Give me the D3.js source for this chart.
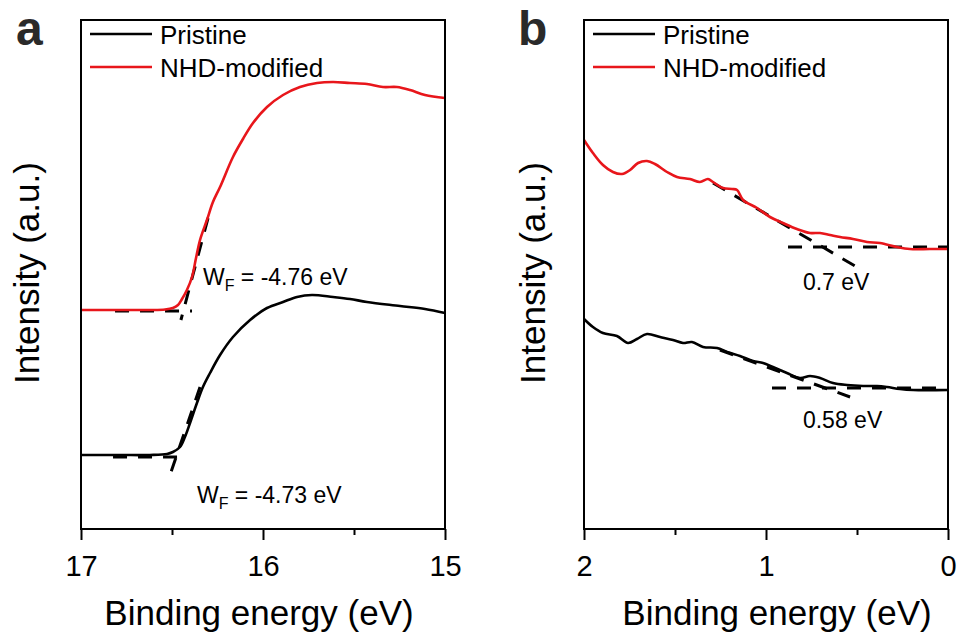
<!DOCTYPE html>
<html><head><meta charset="utf-8">
<script src="https://cdn.jsdelivr.net/npm/d3@7"></script>
<style>
body{margin:0;background:#fff}
text{font-family:"Liberation Sans",Arial,sans-serif}
</style></head>
<body><svg id="c" width="960" height="634"></svg>
<script>
// ---------- data ----------
const seriesNames = ["Pristine", "NHD-modified"];
const seriesColors = ["#000000", "#e8161b"];

// Panel a: secondary electron cutoff (binding energy eV, intensity a.u.)
const aPristineE = [17.0,16.786,16.621,16.527,16.495,16.456,16.429,16.401,16.363,16.33,16.291,16.236,16.165,16.071,15.978,15.89,15.813,15.731,15.615,15.522,15.429,15.247,15.11,15.0];
const aPristineI = [74,74,74,75,77,82,92,106,126,142,156,174,192,209,221,227,232,234,232,230,227,223,220,216];
const aNhdE = [17.0,16.786,16.621,16.538,16.495,16.467,16.445,16.418,16.39,16.368,16.346,16.308,16.275,16.236,16.165,16.11,16.055,15.978,15.89,15.797,15.703,15.615,15.522,15.429,15.341,15.264,15.192,15.11,15.0];
const aNhdI = [219,219,219,219.5,221,224,230,239,252,271,289,309,327,342,372,390,406,422,434,442,446,447,446,445,442,442,439,434,431];

// Panel b: valence band edge
const bPristineE = [2.0,1.951,1.896,1.819,1.758,1.709,1.654,1.582,1.511,1.456,1.407,1.346,1.269,1.214,1.143,1.071,1.016,0.962,0.885,0.813,0.758,0.703,0.632,0.555,0.467,0.39,0.335,0.264,0.192,0.0];
const bPristineI = [210,202,196,193,186,190,195,192,189,186,187,182,181,177,173,168,166,162,156,151,153,151,146,144,143,143,142,140,139,139];
const bNhdE = [2.0,1.951,1.896,1.841,1.791,1.747,1.703,1.654,1.61,1.544,1.489,1.418,1.363,1.319,1.291,1.236,1.187,1.159,1.126,1.049,0.978,0.907,0.83,0.758,0.703,0.648,0.593,0.522,0.445,0.374,0.28,0.209,0.099,0.0];
const bNhdI = [389,376,364,357,355,359,366,368,365,357,352,350,347,350,347,341,340,339,329,321,312,306,300,296,296,294,292,290,287,286,282,280,280,280];

// Dashed extrapolation lines: [E1, I1, E2, I2]
const aGuides = [
  [16.302,311,16.451,209], [16.813,218,16.390,218],
  [16.346,142,16.511,54],  [16.824,72,16.412,72]
];
const bGuides = [
  [1.291,346,0.473,259], [0.879,282,0.0,282],
  [1.253,179,0.538,132], [0.967,141,0.0,141]
];

const aTicks = [17,16,15], aMinor = [16.5,15.5];
const bTicks = [2,1,0], bMinor = [1.5,0.5];
const xTitle = "Binding energy (eV)";
const yTitle = "Intensity (a.u.)";
const aNotes = [["-4.76 eV",16.330,244],["-4.73 eV",16.363,26]];
const bNotes = [["0.7 eV",0.797,239],["0.58 eV",0.797,101]];

// ---------- drawing ----------
const svg = d3.select("#c");
const plotTop = 20, plotBottom = 529;
const y = d3.scaleLinear().domain([0,509]).range([plotBottom, plotTop]);

function panel(opt){
  const x = d3.scaleLinear().domain(opt.dom).range([opt.x0, opt.x1]);
  const g = svg.append("g");
  const major = d3.axisBottom(x).tickValues(opt.ticks).tickSize(11).tickFormat(d3.format("d"));
  const minor = d3.axisBottom(x).tickValues(opt.minor).tickSize(6).tickFormat("");
  const ga = g.append("g").attr("transform",`translate(0,${plotBottom})`).call(major);
  ga.select(".domain").remove();
  ga.selectAll("line").attr("stroke","#000").attr("stroke-width",2);
  ga.selectAll("text").attr("y",47).attr("dy",0).attr("font-size",29).attr("fill","#000")
    .attr("font-family","'Liberation Sans',Arial,sans-serif");
  const gm = g.append("g").attr("transform",`translate(0,${plotBottom})`).call(minor);
  gm.select(".domain").remove();
  gm.selectAll("line").attr("stroke","#000").attr("stroke-width",2);

  g.selectAll(".guide").data(opt.guides).enter().append("line")
    .attr("x1",d=>x(d[0])).attr("y1",d=>y(d[1]))
    .attr("x2",d=>x(d[2])).attr("y2",d=>y(d[3]))
    .attr("stroke","#000").attr("stroke-width",3).attr("stroke-dasharray","14,11");

  const line = d3.line().x(d=>x(d[0])).y(d=>y(d[1])).curve(d3.curveCatmullRom);
  opt.series.forEach((s,i)=>{
    g.append("path").datum(d3.zip(s[0],s[1])).attr("d",line)
      .attr("fill","none").attr("stroke",seriesColors[i]).attr("stroke-width",2.6)
      .attr("stroke-linejoin","round");
  });

  g.append("rect").attr("x",opt.x0).attr("y",plotTop).attr("width",opt.x1-opt.x0).attr("height",plotBottom-plotTop)
    .attr("fill","none").attr("stroke","#000").attr("stroke-width",2);

  seriesNames.forEach((n,i)=>{
    const ly = 34 + i*33;
    g.append("line").attr("x1",opt.x0+9).attr("x2",opt.x0+71).attr("y1",ly).attr("y2",ly)
      .attr("stroke",seriesColors[i]).attr("stroke-width",2.6);
    g.append("text").attr("x",opt.x0+79).attr("y",ly+9.5).attr("font-size",26).text(n);
  });

  g.append("text").attr("x",opt.titleX).attr("y",625).attr("text-anchor","middle")
    .attr("font-size",35).text(xTitle);
  g.append("text").attr("transform",`translate(${opt.yTitleX},273) rotate(-90)`)
    .attr("text-anchor","middle").attr("font-size",35).text(yTitle);
  g.append("text").attr("x",opt.labelX).attr("y",45).attr("font-size",48).attr("font-weight","bold")
    .attr("fill","#2a2a2a").text(opt.label);

  opt.notes.forEach(nt=>{
    const t = g.append("text").attr("x",x(nt[1])).attr("y",y(nt[2])).attr("font-size",23);
    if(opt.wf){
      t.append("tspan").text("W");
      t.append("tspan").attr("font-size",16).attr("dy",6).text("F");
      t.append("tspan").attr("dy",-6).text(" = " + nt[0]);
    } else {
      t.text(nt[0]);
    }
  });
}

panel({dom:[17,15], x0:81, x1:445, ticks:aTicks, minor:aMinor, guides:aGuides,
  series:[[aPristineE,aPristineI],[aNhdE,aNhdI]], titleX:259, yTitleX:39, labelX:16, label:"a",
  notes:aNotes, wf:true});
panel({dom:[2,0], x0:584, x1:948, ticks:bTicks, minor:bMinor, guides:bGuides,
  series:[[bPristineE,bPristineI],[bNhdE,bNhdI]], titleX:777, yTitleX:545, labelX:518, label:"b",
  notes:bNotes, wf:false});
</script></body></html>
